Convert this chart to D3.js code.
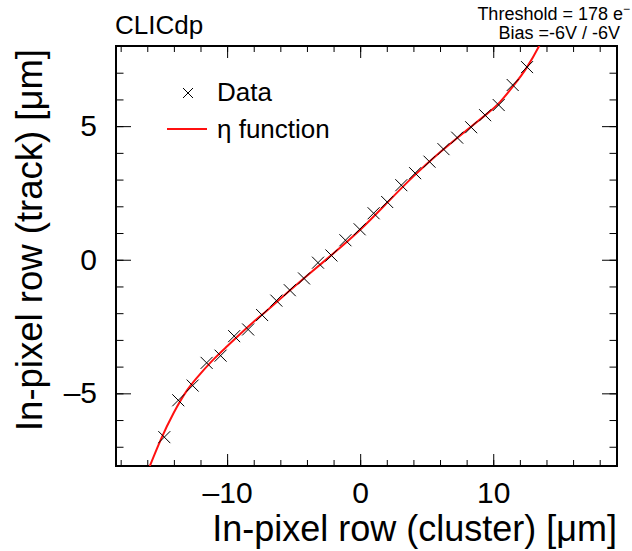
<!DOCTYPE html>
<html>
<head>
<meta charset="utf-8">
<script src="https://cdn.jsdelivr.net/npm/d3@7"></script>
<style>
  body { margin: 0; background: white; }
  svg text { font-family: "Liberation Sans", Arial, Helvetica, sans-serif; fill: black; }
</style>
</head>
<body>
<svg id="chart"></svg>
<script>
// measured points (profile of track vs cluster in-pixel row)
var dataX = [-14.72, -13.67, -12.59, -11.54, -10.49, -9.47, -8.42, -7.37, -6.30, -5.29, -4.22, -3.17, -2.16, -1.11,
             -0.04, 1.01, 2.03, 3.09, 4.13, 5.21, 6.26, 7.29, 8.34, 9.39, 10.41, 11.46, 12.54]
var dataY = [-6.64, -5.26, -4.71, -3.86, -3.59, -2.86, -2.61, -2.07, -1.53, -1.14, -0.70, -0.11, 0.16, 0.73,
             1.14, 1.74, 2.16, 2.79, 3.24, 3.67, 4.14, 4.57, 4.96, 5.41, 5.79, 6.54, 7.21]

// eta function curve
var etaX = [-15.95, -15.0, -14.0, -13.0, -12.0, -11.0, -10.0, -9.0, -8.0, -7.0, -6.0, -4.0, -2.0,
            0.0, 2.0, 4.0, 6.0, 8.0, 9.5, 10.5, 11.5, 12.5, 13.5, 13.9]
var etaY = [-7.9, -6.75, -5.72, -4.88, -4.26, -3.72, -3.24, -2.77, -2.32, -1.90, -1.46, -0.60, 0.24,
            1.12, 2.12, 3.12, 4.02, 4.85, 5.45, 5.90, 6.50, 7.18, 8.05, 8.5]

var xTicks = [-10, 0, 10]
var yTicks = [-5, 0, 5]
var xTitle = 'In-pixel row (cluster) [\u03bcm]'
var yTitle = 'In-pixel row (track) [\u03bcm]'

var width = 632, height = 551
var frame = {left: 116, right: 617, top: 46, bottom: 466}

var svg = d3.select('#chart').attr('width', width).attr('height', height)

var x = d3.scaleLinear().domain([-18.35, 19.3]).range([frame.left, frame.right])
var y = d3.scaleLinear().domain([-7.72, 8.0]).range([frame.bottom, frame.top])

function fmt(d){ return d < 0 ? '\u2013' + Math.abs(d) : '' + d }

var xMinor = d3.range(-18, 19.01, 2)
var yMinor = d3.range(-7, 8.01, 1)

// ticks, ROOT style (inside the frame, on all four sides)
function tickAxis(axis, tr){
  var g = svg.append('g').attr('transform', tr).call(axis)
  g.select('.domain').remove()
  g.selectAll('line').attr('stroke', '#000').attr('stroke-width', 1)
  return g
}

tickAxis(d3.axisBottom(x).tickValues(xMinor).tickSize(-6).tickFormat(''), 'translate(0,' + frame.bottom + ')')
tickAxis(d3.axisTop(x).tickValues(xMinor).tickSize(-6).tickFormat(''), 'translate(0,' + frame.top + ')')
tickAxis(d3.axisTop(x).tickValues(xTicks).tickSize(-12).tickFormat(''), 'translate(0,' + frame.top + ')')
var gx = tickAxis(d3.axisBottom(x).tickValues(xTicks).tickSize(-12).tickPadding(16).tickFormat(fmt),
                  'translate(0,' + frame.bottom + ')')
gx.selectAll('text').attr('font-size', 30).attr('font-family', null)

tickAxis(d3.axisLeft(y).tickValues(yMinor).tickSize(-7.5).tickFormat(''), 'translate(' + frame.left + ',0)')
tickAxis(d3.axisRight(y).tickValues(yMinor).tickSize(-7.5).tickFormat(''), 'translate(' + frame.right + ',0)')
tickAxis(d3.axisRight(y).tickValues(yTicks).tickSize(-15).tickFormat(''), 'translate(' + frame.right + ',0)')
var gy = tickAxis(d3.axisLeft(y).tickValues(yTicks).tickSize(-15).tickPadding(19).tickFormat(fmt),
                  'translate(' + frame.left + ',0)')
gy.selectAll('text').attr('font-size', 30).attr('font-family', null)

svg.selectAll('.tick text').attr('fill', '#000')

// frame
svg.append('rect')
  .attr('x', frame.left).attr('y', frame.top)
  .attr('width', frame.right - frame.left).attr('height', frame.bottom - frame.top)
  .attr('fill', 'none').attr('stroke', '#000').attr('stroke-width', 2)

svg.append('clipPath').attr('id', 'clip')
  .append('rect')
  .attr('x', frame.left).attr('y', frame.top)
  .attr('width', frame.right - frame.left).attr('height', frame.bottom - frame.top)

var plot = svg.append('g').attr('clip-path', 'url(#clip)')

// eta function
var line = d3.line()
  .x(function(d){ return x(d[0]) })
  .y(function(d){ return y(d[1]) })
  .curve(d3.curveNatural)

plot.append('path')
  .datum(d3.zip(etaX, etaY))
  .attr('d', line)
  .attr('fill', 'none')
  .attr('stroke', '#ff1010')
  .attr('stroke-width', 2)

// data markers (x shaped)
var cross = 'M-6,-6L6,6M-6,6L6,-6'

plot.selectAll('.marker').data(d3.zip(dataX, dataY))
  .enter().append('path')
  .classed('marker', true)
  .attr('d', cross)
  .attr('stroke', '#000')
  .attr('stroke-width', 1)
  .attr('transform', function(d){ return 'translate(' + x(d[0]) + ',' + y(d[1]) + ')' })

// legend
var legend = svg.append('g')
legend.append('path').attr('d', 'M-5,-5L5,5M-5,5L5,-5').attr('stroke', '#000').attr('stroke-width', 1)
  .attr('transform', 'translate(188,93)')
legend.append('text').attr('x', 217).attr('y', 101).attr('font-size', 26).text('Data')
legend.append('line').attr('x1', 167).attr('x2', 207).attr('y1', 129).attr('y2', 129)
  .attr('stroke', '#ff1010').attr('stroke-width', 2)
legend.append('text').attr('x', 217).attr('y', 138).attr('font-size', 26).text('\u03b7 function')

// titles
svg.append('text')
  .attr('x', frame.right).attr('y', 541)
  .attr('text-anchor', 'end').attr('font-size', 36)
  .text(xTitle)

svg.append('text')
  .attr('transform', 'translate(42,49) rotate(-90)')
  .attr('text-anchor', 'end').attr('font-size', 36.5)
  .text(yTitle)

svg.append('text').attr('x', 115).attr('y', 34).attr('font-size', 26).text('CLICdp')

var thr = svg.append('text').attr('x', 630).attr('y', 20).attr('text-anchor', 'end').attr('font-size', 18)
thr.append('tspan').text('Threshold = 178 e')
thr.append('tspan').attr('font-size', 12).attr('dy', -7).text('\u2212')
svg.append('text').attr('x', 620).attr('y', 39).attr('text-anchor', 'end').attr('font-size', 18)
  .text('Bias =-6V / -6V')
</script>
</body>
</html>
